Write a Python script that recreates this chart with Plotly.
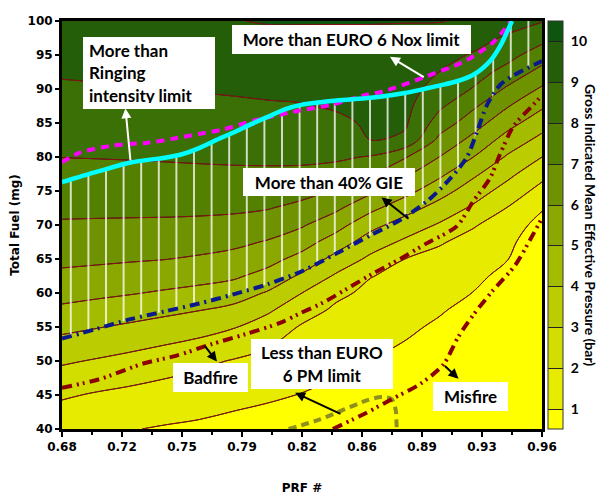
import plotly.graph_objects as go

# ---- GIMEP map (bar) on a PRF x total-fuel grid ----
prf_grid = [0.68, 0.70, 0.72, 0.74, 0.76, 0.78, 0.80, 0.82, 0.84, 0.86, 0.88, 0.90, 0.92, 0.94, 0.96]
fuel_grid = [40, 45, 50, 55, 57.5, 60, 62.5, 65, 67.5, 70, 72.5, 75, 77.5, 80,
             82.5, 85, 87.5, 90, 92.5, 95, 97.5, 100]
gimep = [
    [1.31, 1.16, 1.04, 0.92, 0.82, 0.67, 0.58, 0.50, 0.35, 0.18, -0.08, -0.53, -1.10, -2.10, -6.10],
    [2.12, 1.91, 1.75, 1.59, 1.47, 1.30, 1.13, 0.97, 0.78, 0.59, 0.33, -0.06, -0.58, -1.48, -5.00],
    [3.13, 2.92, 2.70, 2.45, 2.20, 1.94, 1.69, 1.44, 1.21, 0.99, 0.75, 0.40, -0.06, -0.85, -3.89],
    [4.25, 4.05, 3.84, 3.62, 3.38, 3.06, 2.52, 1.91, 1.63, 1.40, 1.17, 0.86, 0.46, -0.23, -2.78],
    [4.82, 4.64, 4.45, 4.24, 4.03, 3.75, 3.15, 2.38, 1.85, 1.60, 1.38, 1.09, 0.72, 0.09, -2.22],
    [5.33, 5.20, 5.06, 4.89, 4.72, 4.47, 3.91, 3.00, 2.19, 1.80, 1.58, 1.32, 0.98, 0.40, -1.67],
    [5.81, 5.71, 5.60, 5.47, 5.33, 5.15, 4.67, 3.83, 2.86, 2.03, 1.79, 1.56, 1.24, 0.71, -1.11],
    [6.21, 6.16, 6.09, 6.02, 5.89, 5.70, 5.33, 4.67, 3.67, 2.79, 2.00, 1.79, 1.50, 1.03, -0.56],
    [6.56, 6.52, 6.48, 6.43, 6.36, 6.22, 5.93, 5.42, 4.52, 3.51, 2.83, 2.07, 1.76, 1.34, 0.00],
    [6.90, 6.88, 6.86, 6.84, 6.80, 6.72, 6.50, 6.10, 5.37, 4.31, 3.57, 2.90, 2.06, 1.65, 0.56],
    [7.20, 7.19, 7.19, 7.19, 7.18, 7.15, 7.05, 6.74, 6.18, 5.26, 4.40, 3.63, 2.84, 1.96, 1.11],
    [7.47, 7.47, 7.48, 7.49, 7.51, 7.50, 7.45, 7.31, 6.91, 6.18, 5.33, 4.40, 3.50, 2.59, 1.67],
    [7.74, 7.75, 7.78, 7.80, 7.83, 7.85, 7.85, 7.82, 7.61, 7.07, 6.18, 5.22, 4.17, 3.25, 2.29],
    [8.01, 8.03, 8.05, 8.08, 8.11, 8.14, 8.16, 8.17, 8.15, 7.93, 7.08, 6.00, 5.00, 3.88, 3.00],
    [8.23, 8.25, 8.28, 8.31, 8.35, 8.38, 8.41, 8.43, 8.49, 9.00, 8.80, 6.76, 5.71, 4.61, 3.71],
    [8.44, 8.47, 8.50, 8.54, 8.58, 8.62, 8.67, 8.69, 8.82, 9.12, 9.15, 7.57, 6.43, 5.34, 4.43],
    [8.66, 8.69, 8.73, 8.77, 8.82, 8.86, 8.92, 8.96, 9.09, 9.27, 9.26, 8.19, 7.16, 6.06, 5.14],
    [8.88, 8.91, 8.95, 9.00, 9.05, 9.10, 9.15, 9.18, 9.28, 9.42, 9.41, 8.60, 7.94, 6.84, 5.86],
    [9.09, 9.13, 9.17, 9.22, 9.27, 9.32, 9.37, 9.40, 9.47, 9.58, 9.56, 9.00, 8.43, 7.67, 6.67],
    [9.31, 9.35, 9.39, 9.43, 9.48, 9.54, 9.59, 9.61, 9.66, 9.73, 9.72, 9.34, 8.91, 8.32, 7.50],
    [9.53, 9.57, 9.61, 9.65, 9.70, 9.75, 9.81, 9.83, 9.85, 9.88, 9.87, 9.68, 9.40, 8.85, 8.30],
    [9.74, 9.78, 9.83, 9.87, 9.91, 9.97, 10.05, 10.05, 10.04, 10.03, 10.02, 10.03, 9.90, 9.47, 9.06],
]
gimep_levels = [1, 2, 3, 4, 5, 6, 7, 8, 9, 10]
band_colors = ["#FFFF00", "#E6EB00", "#D2DD00", "#BBCD00", "#A3BC00", "#8AA800",
               "#6E9200", "#548000", "#3A7006", "#245E08", "#0E560E"]

# ---- operating limits ----
ringing_prf = [0.68, 0.70, 0.72, 0.74, 0.75, 0.76, 0.77, 0.78, 0.79, 0.80, 0.81, 0.82, 0.84,
               0.86, 0.88, 0.90, 0.91, 0.92, 0.93, 0.936, 0.94, 0.9425]
ringing_fuel = [76.3, 77.8, 79.2, 79.9, 80.4, 81.3, 82.5, 83.6, 84.8, 85.9, 87.0, 87.7, 88.3,
                88.7, 89.4, 90.5, 91.1, 92.1, 94.2, 96.5, 98.6, 100.0]
nox_prf = [0.68, 0.69, 0.71, 0.73, 0.745, 0.76, 0.7733, 0.7927, 0.818, 0.8375, 0.8568, 0.8667,
           0.8919, 0.915, 0.9308, 0.9367, 0.9415]
nox_fuel = [79.2, 80.6, 81.7, 82.1, 82.7, 83.4, 84.0, 85.4, 86.8, 87.7, 89.1, 89.6,
            91.8, 94.1, 96.7, 98.3, 99.9]
gie_prf = [0.68, 0.70, 0.72, 0.74, 0.76, 0.78, 0.80, 0.82, 0.84, 0.86, 0.877, 0.893, 0.906,
           0.916, 0.922, 0.928, 0.936, 0.947, 0.96]
gie_fuel = [53.3, 54.7, 56.15, 57.3, 58.45, 59.8, 61.3, 63.2, 65.8, 68.5, 70.7, 73.5, 76.7,
            79.9, 83.6, 87.7, 90.7, 92.5, 94.1]
badfire_prf = [0.68, 0.7022, 0.7274, 0.7469, 0.7663, 0.7877, 0.8072, 0.8188, 0.8324, 0.8461,
               0.8616, 0.8772, 0.8927, 0.9102, 0.9199, 0.9297, 0.9355, 0.9433, 0.955, 0.96]
badfire_fuel = [46.06, 47.35, 49.63, 50.79, 52.4, 54.0, 55.6, 57.0, 58.6, 60.6,
                62.9, 65.0, 67.3, 69.8, 73.5, 76.9, 80.4, 84.5, 87.7, 89.1]
misfire_prf = [0.838, 0.8577, 0.8724, 0.8888, 0.9025, 0.9113, 0.92, 0.9308, 0.9444, 0.953, 0.96]
misfire_fuel = [40.0, 42.4, 44.4, 46.6, 49.5, 53.6, 56.8, 60.2, 64.1, 67.8, 71.0]
pm_prf = [0.8122, 0.8304, 0.844, 0.8577, 0.8664, 0.8722, 0.8747, 0.8751, 0.8753]
pm_fuel = [40.0, 41.4, 42.8, 44.2, 44.7, 44.4, 42.75, 41.0, 40.0]

x_tickvals = [0.68, 0.715, 0.75, 0.785, 0.82, 0.855, 0.89, 0.925, 0.96]
x_ticktext = ["0.68", "0.72", "0.75", "0.79", "0.82", "0.86", "0.89", "0.93", "0.96"]
y_tickvals = [40, 45, 50, 55, 60, 65, 70, 75, 80, 85, 90, 95, 100]

AXIS_FONT = dict(family="DejaVu Sans", size=12, color="black", weight="bold")
LABEL_FONT = dict(family="Lato", size=17, color="black", weight="bold")

n = len(band_colors)
colorscale = [[i / (n - 1), c] for i, c in enumerate(band_colors)]

fig = go.Figure()

# filled GIMEP bands (dark level lines feed the colour bar)
fig.add_trace(go.Contour(
    x=prf_grid, y=fuel_grid, z=gimep,
    zmin=gimep_levels[0] - 0.5, zmax=gimep_levels[-1] + 0.5,
    colorscale=colorscale,
    contours=dict(start=gimep_levels[0], end=gimep_levels[-1], size=1,
                  coloring="fill", showlines=True),
    line=dict(color="#222222", width=1, smoothing=1.0),
    colorbar=dict(
        x=1.0125, xanchor="left", xpad=0, y=0.5, len=1.0, ypad=0,
        thickness=15, outlinewidth=1, outlinecolor="#333333",
        tickvals=gimep_levels, ticks="outside", ticklen=5, tickcolor="rgba(0,0,0,0)",
        tickfont=dict(family="Lato", size=14, color="black", weight="bold"),
    ),
    hoverinfo="skip",
))
# dark red iso-GIMEP lines drawn over the bands
fig.add_trace(go.Contour(
    x=prf_grid, y=fuel_grid, z=gimep,
    contours=dict(start=gimep_levels[0], end=gimep_levels[-1], size=1, coloring="none"),
    line=dict(color="#8B1010", width=1, smoothing=1.0),
    showscale=False, hoverinfo="skip",
))

# hatched operating window between the 40% GIE line and the ringing limit
win_x = gie_prf + [0.96] + ringing_prf[::-1]
win_y = gie_fuel + [100.0] + ringing_fuel[::-1]
fig.add_trace(go.Scatter(
    x=win_x, y=win_y, mode="lines", fill="toself",
    line=dict(width=0), fillcolor="rgba(0,0,0,0)",
    fillpattern=dict(shape="|", fgcolor="rgba(255,255,255,0.85)", bgcolor="rgba(0,0,0,0)",
                     size=17.6, solidity=0.1, fillmode="replace"),
    hoverinfo="skip", showlegend=False,
))

def limit_line(x, y, color, width, dash):
    fig.add_trace(go.Scatter(
        x=x, y=y, mode="lines",
        line=dict(color=color, width=width, dash=dash, shape="spline", smoothing=0.8),
        hoverinfo="skip", showlegend=False,
    ))

limit_line(pm_prf, pm_fuel, "#8F8F1E", 4, "8px,5px")
limit_line(misfire_prf, misfire_fuel, "#8B0000", 4, "10px,5px,2px,4px,2px,5px")
limit_line(badfire_prf, badfire_fuel, "#8B0000", 4, "10px,5px,2px,4px,2px,5px")
limit_line(gie_prf, gie_fuel, "#0A1A8A", 4, "10px,5px,2px,5px")
limit_line(nox_prf, nox_fuel, "#FF00FF", 4, "8px,6px")
limit_line(ringing_prf, ringing_fuel, "#00FFFF", 4.5, "solid")

# ---- text boxes: (text, prf, fuel, width, height, align) ----
boxes = [
    ("More than<br>Ringing<br>intensity limit", 0.7307, 92.32, 132, 72, "left"),
    ("More than EURO 6 Nox limit", 0.8489, 97.34, 239, 29, "center"),
    ("More than 40% GIE", 0.8357, 76.36, 172, 28, "center"),
    ("Badfire", 0.7666, 47.53, 75, 29, "center"),
    ("Less than EURO<br>6 PM limit", 0.8317, 49.6, 142, 50, "center"),
    ("Misfire", 0.9182, 44.78, 75, 29, "center"),
]
# ---- arrows: (tail prf, tail fuel, head prf, head fuel, colour) ----
arrows = [
    (0.7200, 79.3, 0.7170, 87.15, "white"),
    (0.8919, 91.6, 0.8713, 94.73, "white"),
    (0.8830, 70.75, 0.8664, 74.05, "black"),
    (0.7626, 52.44, 0.7704, 49.91, "black"),
    (0.8433, 42.13, 0.8160, 45.33, "black"),
    (0.9025, 49.46, 0.9113, 47.4, "black"),
]

annotations = []
for tx, ty, hx, hy, col in arrows:
    annotations.append(dict(
        x=hx, y=hy, ax=tx, ay=ty, xref="x", yref="y", axref="x", ayref="y",
        text="", showarrow=True, arrowhead=2, arrowsize=1, arrowwidth=2, arrowcolor=col,
    ))
for text, bx, by, w, h, align in boxes:
    pad = 6 if align == "left" else 3
    annotations.append(dict(
        x=bx, y=by, xref="x", yref="y", text=text, showarrow=False,
        font=LABEL_FONT, bgcolor="white", borderpad=pad, borderwidth=0,
        width=w - 2 * pad, height=h - 2 * pad, align=align, valign="middle",
    ))
# colour-bar title, reading downwards
annotations.append(dict(
    x=1.102, y=0.5, xref="paper", yref="paper", xanchor="center", yanchor="middle",
    showarrow=False, textangle=90,
    text="Gross Indicated Mean Effective Pressure (bar)",
    font=dict(family="Lato", size=14, color="black", weight="bold"),
))

fig.update_layout(
    width=601, height=495,
    margin=dict(l=62, r=59, t=21, b=66),
    paper_bgcolor="white", plot_bgcolor="white",
    showlegend=False,
    annotations=annotations,
)
fig.update_xaxes(
    range=[0.68, 0.96], tickvals=x_tickvals, ticktext=x_ticktext,
    ticks="outside", ticklen=5, tickwidth=2, tickcolor="black",
    minor=dict(ticks="outside", ticklen=3, tickwidth=1.5, tickcolor="black",
               tick0=0.6975, dtick=0.035),
    showline=True, linewidth=3, linecolor="black", mirror=True,
    showgrid=False, zeroline=False, tickfont=AXIS_FONT, automargin=False,
    title=dict(text="PRF #", font=AXIS_FONT, standoff=32),
)
fig.update_yaxes(
    range=[40, 100], tickvals=y_tickvals,
    ticks="outside", ticklen=4, tickwidth=2, tickcolor="black",
    showline=True, linewidth=3, linecolor="black", mirror=True,
    showgrid=False, zeroline=False, tickfont=AXIS_FONT, automargin=False,
    title=dict(text="Total Fuel (mg)", font=AXIS_FONT, standoff=6),
)

fig.write_html("out.html")
